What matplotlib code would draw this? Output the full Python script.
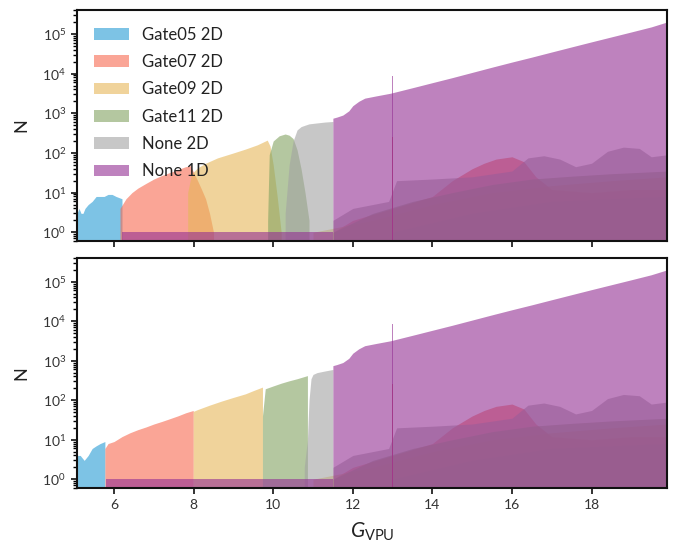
import matplotlib
matplotlib.use('Agg')
import matplotlib.pyplot as plt
from matplotlib.ticker import MultipleLocator, LogLocator

plt.rcParams['font.family'] = ['Lato', 'DejaVu Sans']
plt.rcParams['mathtext.fontset'] = 'custom'
plt.rcParams['mathtext.rm'] = 'Lato'
plt.rcParams['mathtext.it'] = 'Lato:italic'

XSIZE, YSIZE = 6.78, 5.43
ALPHA = 0.6
BASE = 0.1  # below the visible y range, acts as zero on the log axis
TXT = '#222222'

LABELS = ['Gate05 2D', 'Gate07 2D', 'Gate09 2D', 'Gate11 2D', 'None 2D', 'None 1D']
COLORS = ['#269BD5', '#F76950', '#E6B758', '#82A361', '#A3A3A3', '#932F93']

# --- top panel: main bulk of each selection ---
G05_TOP_X = [5.07, 5.12, 5.17, 5.22, 5.27, 5.35, 5.45, 5.55, 5.65, 5.75, 5.85, 5.95, 6.05, 6.2]
G05_TOP_N = [3, 4, 3, 3, 4, 5, 6, 8, 8, 8, 9, 9, 8, 7]
G07_TOP_X = [6.15, 6.3, 6.45, 6.6, 6.8, 7.0, 7.2, 7.4, 7.6, 7.8, 7.92, 8.0, 8.1, 8.2, 8.3, 8.4, 8.5]
G07_TOP_N = [4, 7, 10, 13, 17, 22, 27, 32, 38, 45, 48, 32, 20, 12, 7, 3, 1]
G09_TOP_X = [7.85, 7.95, 8.1, 8.3, 8.6, 9.0, 9.3, 9.6, 9.85, 9.92, 10.0, 10.1, 10.2]
G09_TOP_N = [10, 30, 42, 55, 75, 100, 125, 160, 210, 150, 50, 8, 1]
G11_TOP_X = [9.86, 9.9, 10.0, 10.15, 10.3, 10.4, 10.5, 10.6, 10.7, 10.8, 10.9]
G11_TOP_N = [2, 90, 200, 270, 300, 280, 230, 120, 40, 10, 2]
N2D_TOP_X = [10.3, 10.4, 10.5, 10.6, 10.7, 10.8, 10.9, 11.1, 11.3, 11.5]
N2D_TOP_N = [3, 50, 200, 380, 460, 500, 540, 570, 600, 620]
N1D_LOW_TOP_X = [6.2, 11.5]
N1D_LOW_TOP_N = [1, 1]

# --- bottom panel: main bulk of each selection ---
G05_BOT_X = [5.07, 5.15, 5.25, 5.35, 5.45, 5.55, 5.65, 5.77]
G05_BOT_N = [4, 4, 3, 4, 6, 7, 8, 9]
G07_BOT_X = [5.77, 5.85, 6.0, 6.2, 6.4, 6.6, 6.8, 7.0, 7.2, 7.4, 7.6, 7.8, 7.99]
G07_BOT_N = [6, 8, 9, 12, 15, 18, 21, 25, 29, 34, 40, 48, 55]
G09_BOT_X = [7.99, 8.1, 8.4, 8.7, 9.0, 9.3, 9.5, 9.73]
G09_BOT_N = [52, 58, 75, 95, 118, 145, 175, 215]
G11_BOT_X = [9.73, 9.8, 10.0, 10.2, 10.4, 10.6, 10.86]
G11_BOT_N = [40, 195, 230, 270, 310, 350, 420]
N2D_BOT_X = [10.78, 10.86, 10.9, 10.95, 11.0, 11.1, 11.3, 11.5]
N2D_BOT_N = [2, 10, 100, 350, 450, 500, 550, 600]
N1D_LOW_BOT_X = [5.8, 11.5]
N1D_LOW_BOT_N = [1, 1]

# --- high-G tails of the 2D selections (same in both panels) ---
G05_TAIL_X = [13.0, 15.0, 17.0, 19.9]
G05_TAIL_N = [1, 3, 6, 8]
G07_TAIL_X = [11.5, 12.0, 13.0, 14.0, 14.5, 15.0, 15.3, 15.6, 16.0, 16.3, 16.6, 17.0, 18.0, 19.0, 19.9]
G07_TAIL_N = [1, 2, 4, 8, 20, 40, 55, 70, 80, 60, 25, 12, 10, 12, 12]
G09_TAIL_X = [11.0, 12.5, 14.0, 15.5, 17.0, 18.5, 19.9]
G09_TAIL_N = [1, 2, 5, 10, 15, 20, 25]
G11_TAIL_X = [11.5, 12.5, 13.5, 14.5, 15.5, 16.5, 17.5, 18.5, 19.9]
G11_TAIL_N = [1, 3, 6, 10, 16, 22, 26, 30, 35]
N2D_TAIL_X = [11.5, 12.0, 12.9, 13.1, 14.0, 15.0, 16.0, 16.4, 16.8, 17.2, 17.6, 18.0, 18.4, 18.8, 19.2, 19.5, 19.9]
N2D_TAIL_N = [2, 4, 6, 20, 22, 25, 35, 75, 85, 70, 45, 55, 110, 140, 130, 80, 90]

# --- None 1D (same in both panels) ---
N1D_X = [11.5, 11.6, 11.75, 11.9, 12.0, 12.15, 12.3, 12.6, 12.95, 13.5, 14.0, 14.5, 15.0,
         15.5, 16.0, 16.5, 17.0, 17.5, 18.0, 18.5, 19.0, 19.5, 19.9]
N1D_N = [750, 800, 900, 1150, 1550, 2000, 2400, 2750, 3200, 4400, 5900, 7900, 10700,
         14500, 19500, 26000, 35000, 47000, 63000, 84000, 112000, 150000, 200000]

# single hot bin at G = 13
SPIKE_G = 13.0
SPIKE_N1D = 8500
SPIKE_G07 = 250


def area(ax, x, n, i, label=None):
    ax.fill_between(x, BASE, n, color=COLORS[i], lw=0, alpha=ALPHA, label=label)


def panel(ax, mains, lows, legend=False):
    tails = [(G05_TAIL_X, G05_TAIL_N), (G07_TAIL_X, G07_TAIL_N), (G09_TAIL_X, G09_TAIL_N),
             (G11_TAIL_X, G11_TAIL_N), (N2D_TAIL_X, N2D_TAIL_N)]
    for i, ((x, n), (tx, tn)) in enumerate(zip(mains, tails)):
        area(ax, x, n, i, LABELS[i] if legend else None)
        area(ax, tx, tn, i)
    ax.bar(SPIKE_G, SPIKE_G07, width=0.025, bottom=BASE, color=COLORS[1], alpha=0.9, lw=0)

    area(ax, lows[0], lows[1], 5)
    area(ax, N1D_X, N1D_N, 5, LABELS[5] if legend else None)
    ax.bar(SPIKE_G, SPIKE_N1D, width=0.02, bottom=BASE, color=COLORS[5], alpha=ALPHA, lw=0)

    ax.set_yscale('log')
    ax.set_ylim(0.6, 4e5)
    ax.set_xlim(5.07, 19.9)
    ax.xaxis.set_major_locator(MultipleLocator(2))
    ax.yaxis.set_major_locator(LogLocator(base=10, numticks=10))
    ax.set_ylabel('N', fontsize=13, color=TXT, labelpad=9)
    for s in ax.spines.values():
        s.set_linewidth(1.5)
        s.set_color('#111111')
    ax.tick_params(axis='both', which='major', direction='out', length=4.5, width=1.2,
                   labelsize=10, colors='#111111', labelcolor='#333333')
    ax.tick_params(axis='y', which='minor', direction='out', length=3, width=1.0)
    ax.tick_params(axis='x', which='minor', bottom=False)
    if legend:
        ax.legend(loc='upper left', frameon=False, fontsize=12, handlelength=2.1,
                  handleheight=0.72, labelspacing=0.68, handletextpad=0.8,
                  borderaxespad=0.6, labelcolor=TXT)


fig = plt.figure(figsize=(XSIZE, YSIZE), dpi=100)
ax1 = fig.add_axes([0.1136, 0.556, 0.8704, 0.4256])
ax2 = fig.add_axes([0.1136, 0.1013, 0.8704, 0.4237], sharex=ax1)

panel(ax1,
      [(G05_TOP_X, G05_TOP_N), (G07_TOP_X, G07_TOP_N), (G09_TOP_X, G09_TOP_N),
       (G11_TOP_X, G11_TOP_N), (N2D_TOP_X, N2D_TOP_N)],
      (N1D_LOW_TOP_X, N1D_LOW_TOP_N), legend=True)
panel(ax2,
      [(G05_BOT_X, G05_BOT_N), (G07_BOT_X, G07_BOT_N), (G09_BOT_X, G09_BOT_N),
       (G11_BOT_X, G11_BOT_N), (N2D_BOT_X, N2D_BOT_N)],
      (N1D_LOW_BOT_X, N1D_LOW_BOT_N))

ax1.tick_params(axis='x', labelbottom=False)
ax2.set_xlabel(r'$G_{\mathrm{VPU}}$', fontsize=15, color=TXT, labelpad=7)

fig.savefig('out.png', dpi=100)
plt.close(fig)
